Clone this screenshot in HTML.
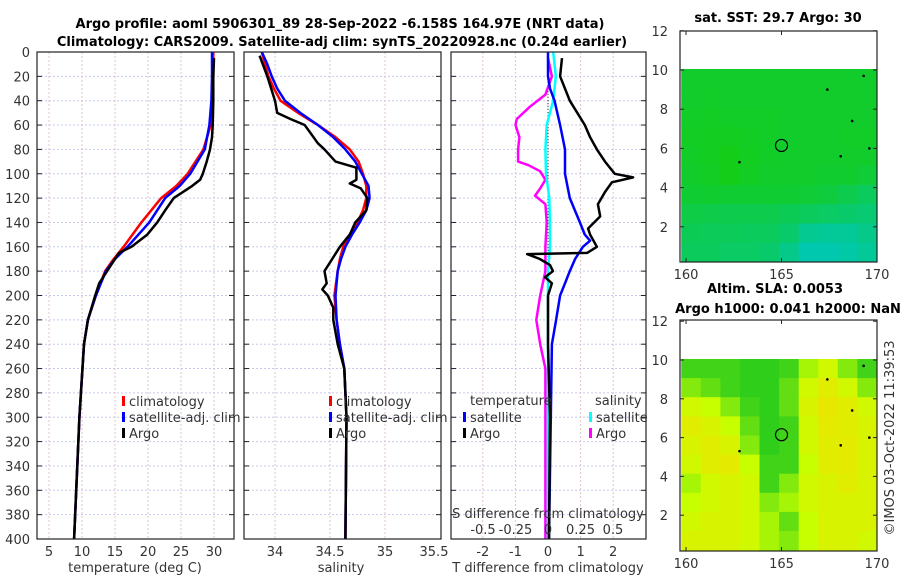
<!DOCTYPE html>
<html><head><meta charset="utf-8"><style>
body{margin:0;background:#fff}
svg{display:block;font-family:"DejaVu Sans","Liberation Sans",sans-serif}
</style></head><body>
<svg id="fig" width="900" height="580" viewBox="0 0 900 580" xmlns="http://www.w3.org/2000/svg">
<rect width="900" height="580" fill="#fff"/>
<g id="maps"></g>
<g id="grid"></g>
<g id="series"></g>
<g id="frames"></g>
<g id="texts" font-size="13" fill="#333"></g>
</svg>
<script>
// ---------- data ----------
const tempDepths  = [0,20,40,60,80,100,110,120,140,160,170,180,200,220,240,300,400];
const tempClim    = [29.9,29.9,29.8,29.5,28.4,26.0,24.3,22.0,19.0,16.3,14.8,13.5,12.1,10.9,10.3,9.6,8.8];
const tempSat     = [29.7,29.7,29.6,29.3,28.6,26.4,24.8,22.6,20.2,16.9,15.0,13.6,12.1,10.9,10.3,9.6,8.8];
const argoTDepths = [5,20,40,60,70,80,90,100,105,110,120,130,140,150,160,165,170,180,190,200,220,240,300,400];
const argoTemp    = [30.0,29.9,29.9,29.8,29.7,29.4,28.9,28.3,27.9,26.7,23.9,22.6,21.4,19.9,17.5,15.6,15.0,13.8,12.6,12.0,10.9,10.3,9.6,8.8];

const salDepths   = [0,10,20,30,40,50,60,70,80,90,100,110,120,130,140,150,160,170,180,200,220,240,260,300,400];
const salClim     = [33.88,33.91,33.94,33.99,34.05,34.21,34.39,34.55,34.68,34.76,34.80,34.83,34.83,34.80,34.75,34.68,34.62,34.59,34.57,34.54,34.56,34.59,34.63,34.65,34.64];
const salSat      = [33.88,33.93,33.97,34.02,34.09,34.23,34.39,34.53,34.64,34.73,34.79,34.85,34.86,34.83,34.77,34.70,34.64,34.60,34.57,34.55,34.56,34.59,34.63,34.65,34.64];
const argoSDepths = [3,20,40,50,55,60,70,75,80,90,95,105,108,112,120,130,140,150,160,170,180,190,195,200,210,220,240,260,300,400];
const argoSal     = [33.86,33.93,34.00,34.02,34.14,34.27,34.35,34.39,34.45,34.55,34.74,34.74,34.68,34.78,34.84,34.83,34.73,34.68,34.59,34.52,34.45,34.47,34.43,34.48,34.53,34.53,34.57,34.63,34.65,34.64];

const diffDepths  = [0,20,30,40,60,80,100,120,140,150,155,160,170,180,190,200,220,240,400];
const satTDiff    = [0.0,0.0,0.06,0.2,0.37,0.52,0.52,0.67,0.98,1.13,1.29,1.07,0.83,0.67,0.52,0.37,0.25,0.12,0.03];
const argoTDDepths= [5,20,40,60,70,80,90,100,103,107,115,125,135,145,150,160,165,166,170,175,180,185,190,200,240,300,400];
const argoTDiff   = [0.43,0.37,0.67,1.13,1.29,1.50,1.75,2.05,2.61,1.96,1.75,1.53,1.60,1.23,1.29,1.50,1.20,-0.64,-0.25,0.06,0.15,-0.09,0.12,0.0,0.0,0.06,0.03];
const satSDepths  = [0,20,40,60,80,100,120,140,160,180,200,250,400];
const satSDiff    = [0.04,0.06,0.04,-0.01,-0.02,-0.015,0.01,0.015,0.015,0.0,0.0,0.0,0.0];
const argoSDDepths= [5,20,35,45,55,60,70,80,90,93,98,105,112,118,125,140,160,180,200,220,240,260,400];
const argoSDiff   = [0.0,0.03,-0.02,-0.14,-0.24,-0.25,-0.22,-0.23,-0.23,-0.15,-0.06,-0.02,-0.06,-0.10,-0.02,-0.01,-0.02,-0.02,-0.06,-0.09,-0.06,-0.02,-0.02];

const depthTicks  = [0,20,40,60,80,100,120,140,160,180,200,220,240,260,280,300,320,340,360,380,400];
const tempTicks   = [5,10,15,20,25,30];
const salTicks    = [34,34.5,35,35.5];
const tdTicks     = [-2,-1,0,1,2];
const sdTicks     = [-0.5,-0.25,0,0.25,0.5];
const latTicks    = [2,4,6,8,10,12];
const lonTicks    = [160,165,170];

// map grids: rows lat 10->0 (1 deg), cols lon ~160->170
const sstGrid = [
 [29.85,29.85,29.85,29.85,29.85,29.85,29.85,29.85,29.85,29.85],
 [29.85,29.86,29.85,29.85,29.85,29.85,29.85,29.85,29.85,29.85],
 [29.86,29.87,29.86,29.86,29.86,29.85,29.85,29.85,29.85,29.85],
 [29.87,29.88,29.88,29.87,29.86,29.85,29.85,29.85,29.86,29.86],
 [29.86,29.88,29.9,29.88,29.86,29.85,29.85,29.85,29.85,29.85],
 [29.85,29.87,29.9,29.87,29.85,29.85,29.85,29.84,29.84,29.82],
 [29.83,29.84,29.83,29.83,29.83,29.83,29.82,29.8,29.76,29.72],
 [29.78,29.77,29.76,29.76,29.76,29.74,29.72,29.7,29.68,29.66],
 [29.74,29.73,29.73,29.72,29.72,29.68,29.58,29.56,29.56,29.6],
 [29.72,29.72,29.7,29.7,29.68,29.6,29.5,29.5,29.52,29.56]];
const slaGrid = [
 [.1,.1,.1,.05,.05,.1,.4,.6,.3,.1],
 [.3,.2,.1,.05,.05,.2,.6,.8,.6,.3],
 [.6,.5,.3,.1,.05,.2,.7,.9,.8,.6],
 [.8,.7,.5,.2,.05,.1,.6,.85,.8,.7],
 [.7,.8,.7,.3,.05,.1,.6,.8,.85,.7],
 [.6,.8,.85,.5,.1,.1,.5,.8,.85,.7],
 [.4,.6,.7,.6,.1,.3,.6,.7,.8,.7],
 [.5,.6,.7,.6,.3,.4,.6,.7,.7,.7],
 [.6,.7,.7,.6,.4,.2,.5,.7,.7,.7],
 [.7,.7,.7,.6,.4,.3,.5,.7,.7,.6]];

// ---------- helpers ----------
const NS="http://www.w3.org/2000/svg";
function mk(tag,attrs,parent){const e=document.createElementNS(NS,tag);for(const k in attrs)e.setAttribute(k,attrs[k]);document.getElementById(parent).appendChild(e);return e;}
function txt(s,x,y,anchor,extra){const e=mk('text',Object.assign({x:x,y:y,'text-anchor':anchor||'middle'},extra||{}),'texts');e.textContent=s;return e;}

const Y0=52,Y1=539;
const yD=d=>Y0+d*(Y1-Y0)/400;
const xT=t=>49+(t-5)*6.6;
const xS=s=>275+(s-34)*110;
const xTD=t=>548+t*32.6;
const xSD=s=>548+s*130;
const panels=[[37,234],[244,441],[451,646]];

// grid lines
panels.forEach(([a,b],pi)=>{
  depthTicks.forEach(d=>{if(d>0&&d<400){const l=mk('line',{x1:a,x2:b,y1:yD(d),y2:yD(d),stroke:'#c6c9ef','stroke-width':1,'stroke-dasharray':'2,2'},'grid');
    
    }});
  const xs = pi===0?tempTicks.map(xT):pi===1?salTicks.map(xS):tdTicks.map(xTD);
  xs.forEach(x=>{if(x>a+1&&x<b-1){const l=mk('line',{x1:x,x2:x,y1:Y0,y2:Y1,stroke:'#e0c4c4','stroke-width':1,'stroke-dasharray':'2,2'},'grid');
    
    }});
});
const zl=mk('line',{x1:xTD(0),x2:xTD(0),y1:Y0,y2:Y1,stroke:'#333','stroke-width':1,'stroke-dasharray':'1,2'},'grid');



function line(depths,vals,xf,color,w,name){
  const pts=depths.map((d,i)=>xf(vals[i]).toFixed(1)+','+yD(d).toFixed(1)).join(' ');
  const p=mk('polyline',{points:pts,fill:'none',stroke:color,'stroke-width':w,'stroke-linejoin':'round'},'series');
  
  
}
line(tempDepths,tempClim,xT,'#f00',2.5,'temp-climatology-line');
line(tempDepths,tempSat,xT,'#00f',2.5,'temp-satellite-line');
line(argoTDepths,argoTemp,xT,'#000',2.5,'temp-argo-line');
line(salDepths,salClim,xS,'#f00',2.5,'sal-climatology-line');
line(salDepths,salSat,xS,'#00f',2.5,'sal-satellite-line');
line(argoSDepths,argoSal,xS,'#000',2.5,'sal-argo-line');
line(argoSDDepths,argoSDiff,xSD,'#f0f',2.5,'sdiff-argo-line');
line(satSDepths,satSDiff,xSD,'#0ff',2.5,'sdiff-satellite-line');
line(diffDepths,satTDiff,xTD,'#00f',2.5,'tdiff-satellite-line');
line(argoTDDepths,argoTDiff,xTD,'#000',2.5,'tdiff-argo-line');

// frames & ticks
panels.forEach(([a,b],pi)=>{
  const r=mk('rect',{x:a,y:Y0,width:b-a,height:Y1-Y0,fill:'none',stroke:'#222','stroke-width':1.2},'frames');
  
  
  depthTicks.forEach(d=>{
    mk('line',{x1:a,x2:a+5,y1:yD(d),y2:yD(d),stroke:'#222'},'frames');
    mk('line',{x1:b,x2:b-5,y1:yD(d),y2:yD(d),stroke:'#222'},'frames');
  });
});
depthTicks.forEach(d=>{const t=txt(String(d),30,yD(d)+5,'end');
  
  });
tempTicks.forEach(v=>{const t=txt(String(v),xT(v),556);
  
  });
salTicks.forEach(v=>{const t=txt(String(v),v===35.5?434:xS(v),556);
  
  });
tdTicks.forEach(v=>{const t=txt(String(v),xTD(v),556);
  
  });
sdTicks.forEach(v=>{const t=txt(String(v),xSD(v),534);
  
  });

// ---------- maps ----------
function sstColor(v){const t=Math.max(0,Math.min(1,(29.9-v)/0.4));return `rgb(${Math.round(20-20*t)},${Math.round(205-5*t)},${Math.round(25+150*t)})`;}
function slaColor(v){let r,g,b;if(v<0.5){const t=v/0.5;r=30+170*t;g=200+55*t;b=30-30*t;}else{const t=(v-0.5)/0.5;r=200+40*t;g=255-30*t;b=0;}return `rgb(${Math.round(r)},${Math.round(g)},${Math.round(b)})`;}
const mx=lon=>686+(lon-160)*19.1;
const maps=[{grid:sstGrid,col:sstColor,y:lat=>70+(10-lat)*19.6,top:31,bot:262,name:'sst-map'},
            {grid:slaGrid,col:slaColor,y:lat=>360+(10-lat)*19.4,top:320,bot:551,name:'sla-map'}];
maps.forEach(m=>{
  m.grid.forEach((row,ri)=>row.forEach((v,ci)=>{
    const lon0=159.75+ci*1.025, lat1=10.05-ri*0.985;
    const x0=mx(lon0),x1=mx(lon0+1.025),y0=m.y(lat1),y1=Math.min(m.bot,m.y(lat1-0.985));
    const c=mk('rect',{x:x0.toFixed(1),y:y0.toFixed(1),width:(x1-x0+0.5).toFixed(1),height:(y1-y0+0.5).toFixed(1),fill:m.col(v)},'maps');
    
    
  }));
  const f=mk('rect',{x:680,y:m.top,width:197,height:m.bot-m.top,fill:'none',stroke:'#222','stroke-width':1.2},'frames');
  
  
  const c=mk('circle',{cx:mx(165),cy:m.y(6.15),r:6,fill:'none',stroke:'#000','stroke-width':1.2},'frames');
  
  
  [[162.8,5.3],[168.1,5.6],[169.6,6.0],[168.7,7.4],[167.4,9.0],[169.3,9.7]].forEach(p=>{mk('circle',{cx:mx(p[0]),cy:m.y(p[1]),r:1.3,fill:'#000'},'frames');});
  latTicks.forEach(l=>{
    mk('line',{x1:680,x2:684,y1:m.y(l),y2:m.y(l),stroke:'#222'},'frames');
    mk('line',{x1:877,x2:873,y1:m.y(l),y2:m.y(l),stroke:'#222'},'frames');
    const t=txt(String(l),668,m.y(l)+5,'end');
    
    
  });
  lonTicks.forEach(l=>{
    mk('line',{x1:mx(l),x2:mx(l),y1:m.bot,y2:m.bot-4,stroke:'#222'},'frames');
    mk('line',{x1:mx(l),x2:mx(l),y1:m.top,y2:m.top+4,stroke:'#222'},'frames');
    const t=txt(String(l),mx(l),m.bot+17);
    
    
  });
});

// ---------- titles / labels ----------
const bold={'font-weight':'bold',fill:'#000'};
[['Argo profile: aoml 5906301_89 28-Sep-2022 -6.158S 164.97E (NRT data)',340,28,'main-title-line1'],
 ['Climatology: CARS2009. Satellite-adj clim: synTS_20220928.nc (0.24d earlier)',342,46,'main-title-line2'],
 ['sat. SST: 29.7 Argo: 30',778,22,'sst-map-title'],
 ['Altim. SLA: 0.0053',775,293,'sla-map-title-line1'],
 ['Argo h1000: 0.041 h2000: NaN',788,313,'sla-map-title-line2']].forEach(a=>{
  const t=txt(a[0],a[1],a[2],'middle',bold);
  
  
});
[['temperature (deg C)',135,572,'temperature-axis-title'],['salinity',341,572,'salinity-axis-title'],
 ['T difference from climatology',548,572,'tdiff-axis-title'],['S difference from climatology',548,518,'sdiff-axis-title']].forEach(a=>{
  const t=txt(a[0],a[1],a[2]);
  
  
});
const cr=txt('©IMOS 03-Oct-2022 11:39:53',0,0,'middle',{transform:'translate(894,438) rotate(-90)'});



// legends
function leg(x,y,color,label,name){
  mk('rect',{x:x,y:y-10,width:3,height:10,fill:color},'frames');
  const t=txt(label,x+7,y,'start');
  
  
}
leg(122,406,'#f00','climatology','legend-climatology');
leg(122,422,'#00f','satellite-adj. clim','legend-satellite-adj');
leg(122,438,'#000','Argo','legend-argo');
leg(329,406,'#f00','climatology','legend-sal-climatology');
leg(329,422,'#00f','satellite-adj. clim','legend-sal-satellite-adj');
leg(329,438,'#000','Argo','legend-sal-argo');
let t=txt('temperature',470,405,'start');


leg(463,422,'#00f','satellite','legend-tdiff-satellite');
leg(463,438,'#000','Argo','legend-tdiff-argo');
t=txt('salinity',595,405,'start');


leg(589,422,'#0ff','satellite','legend-sdiff-satellite');
leg(589,438,'#f0f','Argo','legend-sdiff-argo');
</script>
</body></html>
